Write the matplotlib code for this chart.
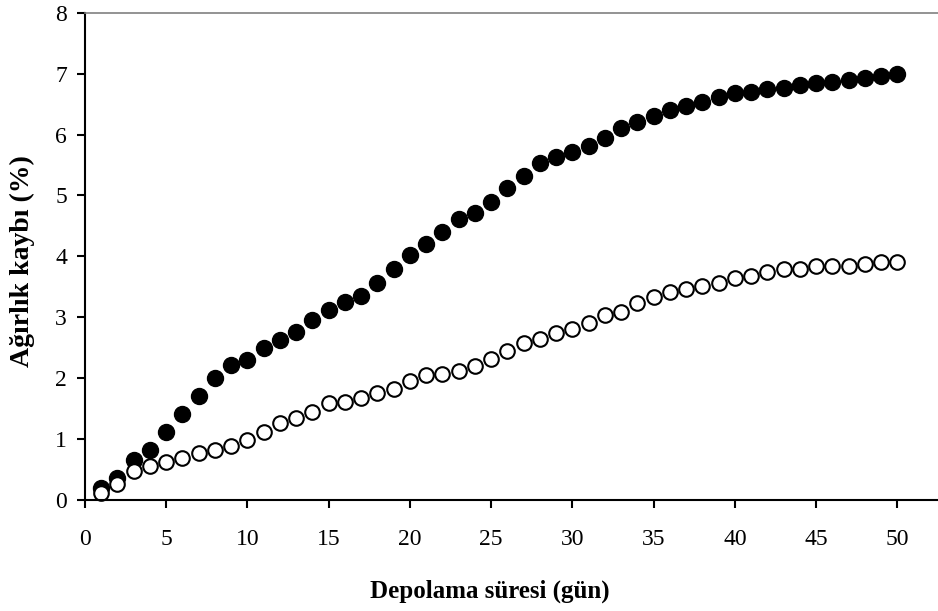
import matplotlib
matplotlib.use("Agg")
import matplotlib.pyplot as plt

# Depolama süresi (gün)
days = list(range(1, 51))

# Dolu daireler
loss_filled = [0.19, 0.36, 0.66, 0.82, 1.12, 1.41, 1.71, 2.01, 2.21, 2.30,
               2.50, 2.63, 2.76, 2.95, 3.12, 3.25, 3.35, 3.56, 3.79, 4.02,
               4.21, 4.40, 4.61, 4.71, 4.90, 5.13, 5.32, 5.53, 5.63, 5.72,
               5.81, 5.95, 6.11, 6.21, 6.31, 6.40, 6.47, 6.54, 6.61, 6.68,
               6.70, 6.74, 6.77, 6.81, 6.84, 6.87, 6.89, 6.93, 6.96, 6.99]

# Boş daireler
loss_open = [0.11, 0.27, 0.47, 0.56, 0.62, 0.69, 0.77, 0.82, 0.89, 0.98,
             1.12, 1.26, 1.35, 1.45, 1.59, 1.61, 1.68, 1.75, 1.82, 1.95,
             2.05, 2.07, 2.11, 2.20, 2.31, 2.45, 2.57, 2.64, 2.74, 2.80,
             2.90, 3.04, 3.09, 3.24, 3.33, 3.42, 3.46, 3.51, 3.57, 3.64,
             3.68, 3.75, 3.80, 3.80, 3.84, 3.84, 3.84, 3.87, 3.91, 3.91]

x_ticks = [0, 5, 10, 15, 20, 25, 30, 35, 40, 45, 50]
y_ticks = [0, 1, 2, 3, 4, 5, 6, 7, 8]

plt.rcParams["font.family"] = ["Liberation Serif", "DejaVu Serif"]

W, H = 938, 611
fig = plt.figure(figsize=(W / 100, H / 100), dpi=100)
ax = fig.add_axes([85 / W, 111 / H, (W - 85) / W, 487.3 / H])

ax.plot(days, loss_filled, linestyle="none", marker="o", markersize=11.5,
        markerfacecolor="black", markeredgecolor="black", clip_on=False)
ax.plot(days, loss_open, linestyle="none", marker="o", markersize=10.5,
        markerfacecolor="white", markeredgecolor="black", markeredgewidth=1.5,
        clip_on=False)

ax.set_xlim(0, 52.5)
ax.set_ylim(0, 8)
ax.set_xticks(x_ticks)
ax.set_yticks(y_ticks)

ax.spines["right"].set_visible(False)
ax.spines["top"].set_color("#808080")
ax.spines["top"].set_linewidth(1.2)
ax.spines["left"].set_linewidth(1.5)
ax.spines["bottom"].set_linewidth(1.5)
ax.tick_params(direction="out", length=6, width=1.5, labelsize=17)
ax.tick_params(axis="x", pad=15)
ax.tick_params(axis="y", pad=7)

# eksen başlıkları
fig.text(490 / W, 1 - 591 / H, "Depolama süresi (gün)", fontsize=18,
         fontweight="bold", ha="center", va="center")
fig.text(22 / W, 1 - 261 / H, "Ağırlık kaybı (%)", fontsize=20,
         fontweight="bold", ha="center", va="center", rotation=90)

fig.savefig("out.png", dpi=100)
